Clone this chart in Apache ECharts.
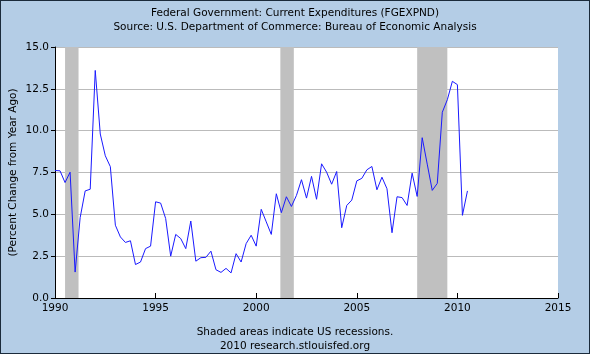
<!DOCTYPE html>
<html>
<head>
<meta charset="utf-8">
<script src="https://cdn.jsdelivr.net/npm/echarts@6/dist/echarts.min.js"></script>
<style>
  html, body { margin: 0; padding: 0; }
  #wrap { position: relative; width: 590px; height: 354px; }
  #charts { width: 590px; height: 354px; }
  #frame { position: absolute; left: 0; top: 0; width: 590px; height: 354px; box-sizing: border-box; border: 1px solid #1a2a3a; pointer-events: none; }
</style>
</head>
<body>
<div id="wrap">
  <div id="charts"></div>
  <div id="frame"></div>
</div>
<script>
// 数据: 1990Q1 起的季度同比变化 (%)
var startYear = 1990;
var pctChange = [
    7.62, 7.6, 6.9, 7.52, 1.55, 4.8, 6.4, 6.5,
    13.6, 9.8, 8.5, 7.85, 4.35, 3.65, 3.32, 3.42,
    2.0, 2.15, 2.95, 3.1, 5.75, 5.67, 4.75, 2.5,
    3.8, 3.55, 2.95, 4.6, 2.2, 2.41, 2.43, 2.8,
    1.69, 1.53, 1.77, 1.5, 2.65, 2.15, 3.25, 3.75,
    3.1, 5.3, 4.55, 3.8, 6.23, 5.1, 6.05, 5.47,
    6.13, 7.07, 5.97, 7.27, 5.9, 8.02, 7.52, 6.8,
    7.56, 4.2, 5.53, 5.85, 7.0, 7.15, 7.66, 7.86,
    6.47, 7.22, 6.53, 3.9, 6.05, 6.0, 5.53, 7.46,
    6.07, 9.58, 8.0, 6.43, 6.85, 11.1, 11.85, 12.95,
    12.75, 4.94, 6.4
];
// 衰退区间
var recessions = [[1990.5, 1991.17], [2001.2, 2001.87], [2008.0, 2009.5]];
var xTicks = [1990, 2015, 5];
var yTicks = [0, 15, 2.5];

var points = pctChange.map(function (v, i) {
    return [startYear + i * 0.25, v];
});

var myChart = echarts.init(document.getElementById('charts'));
var font = 'DejaVu Sans';
var fs = 10.5;
var option = {
    backgroundColor: '#b4cde6',
    animation: false,
    textStyle: { fontFamily: font },
    title: [{
        text: 'Federal Government: Current Expenditures (FGEXPND)\nSource: U.S. Department of Commerce: Bureau of Economic Analysis',
        left: 'center',
        top: 1,
        textStyle: { fontSize: fs, fontWeight: 'normal', color: '#000', lineHeight: 14, fontFamily: font, align: 'center' }
    }, {
        text: 'Shaded areas indicate US recessions.\n2010 research.stlouisfed.org',
        left: 'center',
        top: 320,
        textStyle: { fontSize: fs, fontWeight: 'normal', color: '#000', lineHeight: 14, fontFamily: font, align: 'center' }
    }],
    grid: {
        left: 55, right: 32, top: 47, bottom: 56,
        outerBoundsMode: 'none',
        containLabel: false,
        show: true, backgroundColor: '#fff', borderWidth: 0
    },
    xAxis: {
        type: 'value',
        min: xTicks[0], max: xTicks[1], interval: xTicks[2],
        axisLine: { lineStyle: { color: '#000', width: 1 } },
        axisTick: { inside: true, length: 5, lineStyle: { color: '#000' } },
        axisLabel: { color: '#000', fontSize: fs, margin: 5, formatter: function (v) { return String(v); } },
        splitLine: { show: false }
    },
    yAxis: {
        type: 'value',
        min: yTicks[0], max: yTicks[1], interval: yTicks[2],
        name: '(Percent Change from Year Ago)',
        nameLocation: 'middle',
        nameGap: 36,
        nameMoveOverlap: false,
        nameTextStyle: { color: '#000', fontSize: fs },
        axisLine: { show: true, lineStyle: { color: '#000', width: 1 } },
        axisTick: { show: true, length: 4, lineStyle: { color: '#000' } },
        axisLabel: { color: '#000', fontSize: fs, margin: 6, formatter: function (v) { return v.toFixed(1); } },
        splitLine: { show: true, lineStyle: { color: '#bbbbbb', width: 1 } }
    },
    series: [{
        type: 'line',
        data: [],
        z: 1,
        markArea: {
            silent: true,
            itemStyle: { color: '#c0c0c0' },
            data: recessions.map(function (r) { return [{ xAxis: r[0] }, { xAxis: r[1] }]; })
        }
    }, {
        name: 'FGEXPND',
        type: 'line',
        data: points,
        z: 3,
        symbol: 'none',
        lineStyle: { color: '#1a1aff', width: 1 }
    }]
};
myChart.setOption(option);
</script>
</body>
</html>
